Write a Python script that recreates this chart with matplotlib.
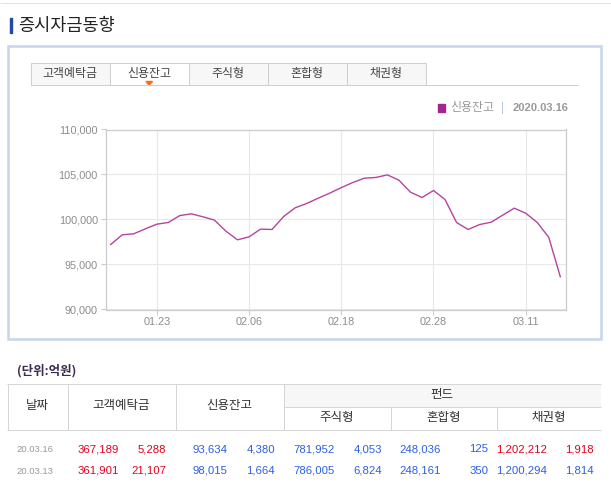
import matplotlib.pyplot as plt
from matplotlib.patches import Rectangle, Polygon
from matplotlib.ticker import FuncFormatter

# credit balance (신용잔고), trading days 2020.01.17 - 2020.03.16
dates = ["01.17", "01.20", "01.21", "01.22", "01.23", "01.28", "01.29", "01.30",
         "01.31", "02.03", "02.04", "02.05", "02.06", "02.07", "02.10", "02.11",
         "02.12", "02.13", "02.14", "02.17", "02.18", "02.19", "02.20", "02.21",
         "02.24", "02.25", "02.26", "02.27", "02.28", "03.02", "03.03", "03.04",
         "03.05", "03.06", "03.09", "03.10", "03.11", "03.12", "03.13", "03.16"]
credit = [97220, 98300, 98410, 98960, 99480, 99670, 100440, 100630,
          100300, 99930, 98700, 97740, 98070, 98930, 98890, 100330,
          101300, 101780, 102370, 102930, 103540, 104110, 104590, 104670,
          104960, 104370, 103040, 102440, 103220, 102220, 99670, 98890,
          99440, 99700, 100480, 101260, 100700, 99670, 98015, 93634]
tick_idx = [4, 12, 20, 28, 36]

tabs = ["고객예탁금", "신용잔고", "주식형", "혼합형", "채권형"]
row_dates = ["20.03.16", "20.03.13"]
row_values = [
    ["367,189", "5,288", "93,634", "4,380", "781,952", "4,053", "248,036", "125", "1,202,212", "1,918"],
    ["361,901", "21,107", "98,015", "1,664", "786,005", "6,824", "248,161", "350", "1,200,294", "1,814"],
]
RED, BLUE = "#e4001e", "#2c5fe2"
row_colors = [
    [RED, RED, BLUE, BLUE, BLUE, BLUE, BLUE, BLUE, RED, RED],
    [RED, RED, BLUE, BLUE, BLUE, BLUE, BLUE, BLUE, BLUE, BLUE],
]

KR = ["Noto Sans CJK KR", "DejaVu Sans"]
NUM = ["Liberation Sans Narrow", "Liberation Sans", "DejaVu Sans"]
W, H = 611, 484
PX = 0.72  # points per pixel at dpi 100

fig = plt.figure(figsize=(W / 100, H / 100), dpi=100)

# page layer in pixel coordinates
page = fig.add_axes([0, 0, 1, 1], zorder=0)
page.set_xlim(0, W)
page.set_ylim(H, 0)
page.axis("off")

def hline(y, x0, x1, color="#d6d6d6", lw=1):
    page.plot([x0, x1], [y, y], color=color, lw=lw * PX, solid_capstyle="butt")

def vline(x, y0, y1, color="#d6d6d6", lw=1):
    page.plot([x, x], [y0, y1], color=color, lw=lw * PX, solid_capstyle="butt")

hline(3, 0, W, color="#e2e2e2")

# title
page.add_patch(Rectangle((10, 18), 2, 15, color="#1f4aa8"))
page.text(18.5, 25.5, "증시자금동향", family=KR, fontsize=12.6, color="#222222",
          va="center", ha="left")

# outer box
page.add_patch(Rectangle((8, 45.5), 593, 293, facecolor="white",
                         edgecolor="#c9d7ee", lw=2.6 * PX))

# tabs
for i, name in enumerate(tabs):
    x0 = 30.5 + 79 * i
    fc = "white" if i == 1 else "#f7f7f7"
    page.add_patch(Rectangle((x0, 62.5), 79, 22.5, facecolor=fc,
                             edgecolor="#cfcfcf", lw=PX))
    page.text(x0 + 39.5, 74, name, family=KR, fontsize=8.6, color="#444444",
              ha="center", va="center")
hline(85, 30.5, 578, color="#cfcfcf")
page.add_patch(Polygon([(146, 81.5), (152.5, 81.5), (149.2, 85)], closed=True,
                       color="#ff6a13"))

# legend
page.add_patch(Rectangle((438, 103.5), 6.5, 8, color="#a1268f"))
page.text(450.5, 108, "신용잔고", family=KR, fontsize=8.6, color="#999999",
          va="center", ha="left")
page.text(503, 108, "|", family=NUM, fontsize=8.5, color="#b9c6dc",
          va="center", ha="center")
page.text(512.5, 108, "2020.03.16", family=["Liberation Sans", "DejaVu Sans"],
          fontsize=8, fontweight="bold", color="#9a9a9a", va="center", ha="left")

# unit label
page.text(17.5, 371, "(단위:억원)", family=KR, fontsize=9, fontweight="bold",
          color="#3d2b4e", va="center", ha="left")

# table
page.add_patch(Rectangle((283.5, 383.5), 317.5, 23, facecolor="#f7f7f7",
                         edgecolor="none"))
hline(383.5, 7, 601)
hline(406.5, 283.5, 601)
hline(429.5, 7, 601)
vline(7.5, 383.5, 429.5)
for x in [67.5, 175.5, 283.5]:
    vline(x, 383.5, 429.5)
for x in [390.5, 497]:
    vline(x, 406.5, 429.5)

hdr = dict(family=KR, fontsize=9, color="#333333", ha="center", va="center")
page.text(37.5, 406, "날짜", **hdr)
page.text(121.5, 406, "고객예탁금", **hdr)
page.text(229.5, 406, "신용잔고", **hdr)
page.text(442, 394.5, "펀드", **hdr)
page.text(337, 418, "주식형", **hdr)
page.text(443.5, 418, "혼합형", **hdr)
page.text(549, 418, "채권형", **hdr)

value_right = [119, 166.5, 227.5, 275, 335, 382, 441, 488.5, 547, 594]
for r, (d, vals, cols) in enumerate(zip(row_dates, row_values, row_colors)):
    base = 452.5 + 21.2 * r
    page.text(16.5, base, d, family=NUM, fontsize=6.8, color="#9a9a9a",
              ha="left", va="baseline")
    for x, v, c in zip(value_right, vals, cols):
        page.text(x, base, v, family=NUM, fontsize=8.2, color=c,
                  ha="right", va="baseline")

# chart
ax = fig.add_axes([105.5 / W, 1 - 309.5 / H, 460 / W, 180 / H], zorder=2)
ax.plot(range(len(credit)), credit, color="#b5449f", lw=1.0)
ax.set_xlim(-0.45, len(credit) - 0.55)
ax.set_ylim(90000, 110000)
ax.set_xticks(tick_idx)
ax.set_xticklabels([dates[i] for i in tick_idx])
ax.set_yticks(range(90000, 110001, 5000))
ax.yaxis.set_major_formatter(FuncFormatter(lambda v, p: f"{int(v):,}"))
ax.grid(True, color="#e8e8e8", lw=0.8)
ax.set_axisbelow(True)
for s in ax.spines.values():
    s.set_color("#cccccc")
    s.set_linewidth(0.9)
ax.tick_params(colors="#cccccc", labelcolor="#8c8c8c", length=3.5, width=0.8,
               labelsize=7.8, pad=2)
for lab in ax.get_xticklabels() + ax.get_yticklabels():
    lab.set_family(["Liberation Sans", "DejaVu Sans"])

fig.savefig("out.png", dpi=100)
